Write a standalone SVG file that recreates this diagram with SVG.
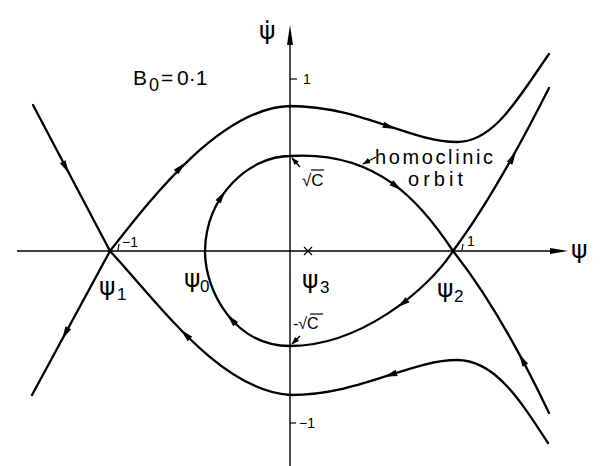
<svg xmlns="http://www.w3.org/2000/svg" width="601" height="466" viewBox="0 0 601 466">
<defs>
<style>
.ax{stroke:#000;stroke-width:1.4;fill:none}
.tk{stroke:#000;stroke-width:1.2;fill:none}
.tr{stroke:#000;stroke-width:2.3;fill:none;stroke-linecap:round}
.ptr{stroke:#000;stroke-width:1.3;fill:none;marker-end:url(#sm)}
text{font-family:"Liberation Sans",Arial,sans-serif;fill:#000}
.g{font-family:"DejaVu Sans",sans-serif;font-size:25px}
.sb{font-family:"Liberation Sans",Arial,sans-serif;font-size:17px}
.num{font-size:14px}
</style>
<path id="ah" d="M6,0 L-7,-3.2 L-7,3.2 Z" fill="#000"/>
<marker id="sm" viewBox="0 0 10 10" refX="9" refY="5" markerWidth="8" markerHeight="8" markerUnits="userSpaceOnUse" orient="auto"><path d="M0,1.5 L10,5 L0,8.5 Z" fill="#000"/></marker>
</defs>
<rect width="601" height="466" fill="#fff"/>
<g id="axes">
<line class="ax" x1="17" y1="251" x2="556" y2="251"/>
<polygon points="568,251 550,248 550,254" fill="#000"/>
<line class="ax" x1="290" y1="466" x2="290" y2="40"/>
<polygon points="290,25 287,45 293,45" fill="#000"/>
<line class="tk" x1="290" y1="79" x2="297" y2="79"/>
<line class="tk" x1="290" y1="423" x2="296" y2="423"/>
<line class="tk" x1="119" y1="244" x2="118" y2="250"/>
<line class="tk" x1="463" y1="244" x2="462" y2="250"/>
<path class="tk" d="M304,247 L312,255 M312,247 L304,255" stroke-width="1.5"/>
</g>
<g id="connectors">
<path id="homoclinic-orbit" class="tr" d="M453,251 C422,204 378,150 290,156 C250,156 206,195 205,251 C205,292 235,346 290,346 C360,346 428,290 453,251"/>
<path id="outer-upper" class="tr" d="M110,251 C150,200 220,108 290,106 C360,106 410,142 457,142 C495,142 520,95 549,54"/>
<path id="outer-lower" class="tr" d="M110,251 C160,305 220,390 290,395 C360,395 410,360 457,360 C495,360 520,400 548,443"/>
<path id="sep-upper-left" class="tr" d="M33,105 L110,251"/>
<path id="sep-lower-left" class="tr" d="M110,251 L32,395"/>
<path id="sep-upper-right" class="tr" d="M453,251 Q495,195 549,88"/>
<path id="sep-lower-right" class="tr" d="M453,251 Q500,310 549,413"/>
<path class="ptr" d="M376,157 L363,164"/>
<path class="ptr" d="M300,167 L292,158"/>
<path class="ptr" d="M300,336 L292,344"/>
</g>
<g id="arrowheads">
<use href="#ah" transform="translate(66,168) rotate(62)"/>
<use href="#ah" transform="translate(65,334) rotate(118)"/>
<use href="#ah" transform="translate(181,167) rotate(-45)"/>
<use href="#ah" transform="translate(390,127) rotate(18.5)"/>
<use href="#ah" transform="translate(513,157) rotate(-61)"/>
<use href="#ah" transform="translate(522,359) rotate(-118)"/>
<use href="#ah" transform="translate(390,375) rotate(162)"/>
<use href="#ah" transform="translate(185,334) rotate(-135)"/>
<use href="#ah" transform="translate(397,187) rotate(37)"/>
<use href="#ah" transform="translate(402,304) rotate(143)"/>
<use href="#ah" transform="translate(231,319) rotate(-132)"/>
<use href="#ah" transform="translate(222,196) rotate(-56)"/>
</g>
<g id="labels">
<text y="85" font-size="21"><tspan x="133">B</tspan><tspan x="149" y="91" font-size="18">0</tspan><tspan x="161" y="85">=</tspan><tspan x="177">0·1</tspan></text>
<text x="375" y="164" font-size="20" textLength="118" lengthAdjust="spacing">homoclinic</text>
<text x="408" y="186" font-size="20" textLength="55" lengthAdjust="spacing">orbit</text>
<text class="num" x="303" y="84">1</text>
<text class="num" x="299" y="428">−1</text>
<text class="num" x="122" y="247" font-size="13">−1</text>
<text class="num" x="467" y="246" font-size="13">1</text>
<text x="302" y="186" font-size="17">√C</text>
<line class="tk" x1="311" y1="170" x2="324" y2="170"/>
<text x="293" y="329" font-size="16">-√C</text>
<line class="tk" x1="310" y1="314" x2="323" y2="314"/>
<text class="g" x="259" y="39">ψ̇</text>
<text class="g" x="571" y="258">ψ</text>
<text class="g" x="99" y="295">ψ<tspan class="sb" x="117" y="300">1</tspan></text>
<text class="g" x="184" y="287">ψ<tspan class="sb" x="200" y="292">0</tspan></text>
<text class="g" x="302" y="288">ψ<tspan class="sb" x="320" y="293">3</tspan></text>
<text class="g" x="437" y="297">ψ<tspan class="sb" x="454" y="302">2</tspan></text>
</g>
</svg>
